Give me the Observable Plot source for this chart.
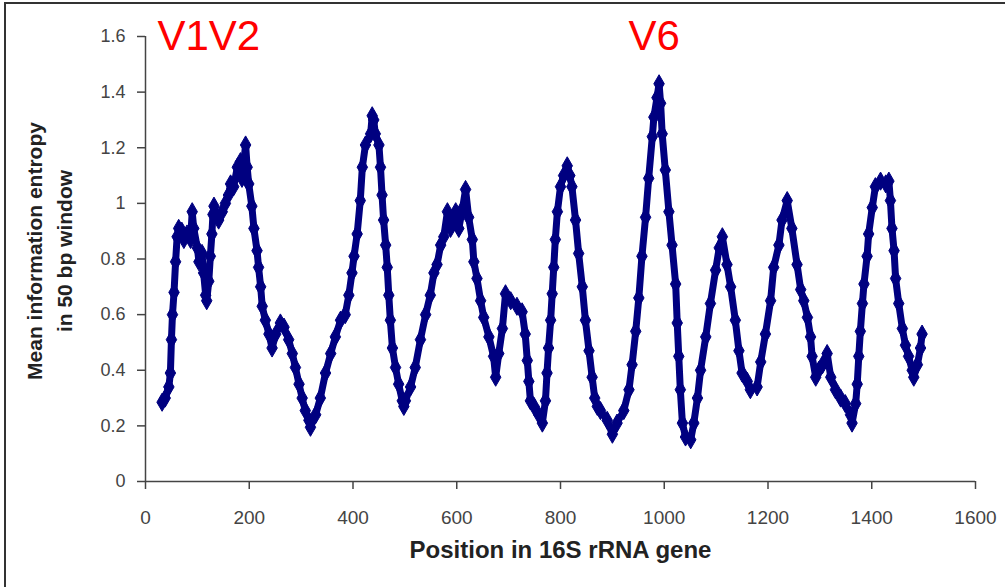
<!DOCTYPE html>
<html>
<head>
<meta charset="utf-8">
<script src="https://cdn.jsdelivr.net/npm/d3@7"></script>
<script src="https://cdn.jsdelivr.net/npm/@observablehq/plot@0.6"></script>
<style>
  html, body { margin: 0; padding: 0; background: #fff; }
  #wrap { position: relative; width: 1005px; height: 587px; overflow: hidden; }
  #border { position: absolute; left: 4px; top: 2px; right: 0; bottom: 0; border-top: 2px solid #333; border-left: 2px solid #333; pointer-events: none; }
</style>
</head>
<body>
<div id="wrap"><div id="border"></div></div>
<script>
// Position in 16S rRNA gene (bp) and mean information entropy in a 50 bp window
const positions = [
  32, 38, 45, 48, 50, 52, 55, 58, 61, 64, 70, 74, 80, 87, 90, 93, 100, 103, 109, 112,
  116, 118, 122, 125, 128, 130, 132, 141, 148, 154, 160, 164, 170, 177, 183, 186, 193, 196, 199, 205,
  209, 215, 218, 222, 225, 231, 238, 244, 251, 260, 267, 276, 283, 289, 296, 302, 308, 315, 318, 328,
  337, 347, 357, 366, 376, 385, 392, 398, 402, 408, 414, 418, 424, 434, 437, 440, 443, 450, 453, 456,
  459, 463, 466, 469, 472, 476, 482, 488, 495, 498, 501, 511, 520, 530, 540, 549, 556, 562, 569, 575,
  582, 588, 598, 604, 611, 617, 623, 630, 633, 639, 646, 652, 662, 671, 675, 681, 688, 694, 704, 716,
  726, 732, 736, 739, 742, 749, 758, 765, 771, 774, 777, 781, 784, 787, 790, 794, 800, 806, 813, 818,
  822, 829, 835, 842, 848, 855, 861, 866, 871, 877, 890, 900, 909, 922, 932, 938, 945, 951, 957, 964,
  970, 977, 980, 986, 990, 993, 996, 1002, 1009, 1015, 1022, 1025, 1028, 1031, 1035, 1041, 1051, 1057, 1064, 1070,
  1080, 1089, 1099, 1106, 1112, 1121, 1128, 1137, 1144, 1150, 1160, 1166, 1179, 1186, 1195, 1205, 1211, 1221, 1227, 1237,
  1246, 1256, 1263, 1269, 1276, 1282, 1285, 1292, 1298, 1305, 1314, 1321, 1330, 1340, 1349, 1359, 1362, 1369, 1372, 1375,
  1378, 1382, 1385, 1391, 1394, 1401, 1407, 1417, 1427, 1433, 1436, 1439, 1443, 1446, 1452, 1459, 1465, 1471, 1478, 1481,
  1488, 1494, 1497
];
const entropy = [
  0.285, 0.30, 0.34, 0.39, 0.51, 0.60, 0.68, 0.79, 0.88, 0.91, 0.90, 0.87, 0.89, 0.87, 0.97, 0.91, 0.84, 0.79, 0.82, 0.75,
  0.67, 0.65, 0.72, 0.81, 0.89, 0.96, 0.99, 0.94, 0.97, 1.00, 1.03, 1.07, 1.06, 1.13, 1.15, 1.09, 1.21, 1.13, 1.07, 0.99,
  0.91, 0.83, 0.77, 0.70, 0.63, 0.58, 0.53, 0.48, 0.53, 0.57, 0.555, 0.51, 0.46, 0.41, 0.35, 0.30, 0.255, 0.22, 0.195, 0.24,
  0.30, 0.39, 0.46, 0.52, 0.58, 0.60, 0.67, 0.75, 0.81, 0.89, 1.01, 1.13, 1.21, 1.25, 1.315, 1.30, 1.25, 1.21, 1.13, 1.03,
  0.94, 0.85, 0.77, 0.67, 0.58, 0.48, 0.41, 0.35, 0.29, 0.27, 0.29, 0.34, 0.41, 0.51, 0.60, 0.67, 0.75, 0.78, 0.85, 0.88,
  0.97, 0.91, 0.97, 0.91, 0.98, 1.05, 0.95, 0.87, 0.79, 0.73, 0.65, 0.59, 0.52, 0.45, 0.375, 0.46, 0.55, 0.675, 0.65, 0.63,
  0.61, 0.53, 0.435, 0.36, 0.29, 0.27, 0.24, 0.21, 0.29, 0.39, 0.48, 0.58, 0.675, 0.77, 0.87, 0.97, 1.06, 1.10, 1.135, 1.10,
  1.06, 0.94, 0.82, 0.70, 0.58, 0.47, 0.375, 0.30, 0.27, 0.255, 0.22, 0.17, 0.21, 0.255, 0.33, 0.42, 0.54, 0.66, 0.81, 0.95,
  1.09, 1.24, 1.31, 1.38, 1.43, 1.36, 1.25, 1.12, 0.97, 0.85, 0.71, 0.57, 0.45, 0.33, 0.21, 0.16, 0.15, 0.21, 0.30, 0.40,
  0.52, 0.64, 0.76, 0.84, 0.88, 0.78, 0.70, 0.58, 0.47, 0.39, 0.36, 0.33, 0.34, 0.43, 0.53, 0.65, 0.77, 0.85, 0.94, 1.01,
  0.91, 0.78, 0.69, 0.65, 0.59, 0.52, 0.45, 0.375, 0.40, 0.42, 0.46, 0.375, 0.33, 0.30, 0.28, 0.24, 0.21, 0.28, 0.35, 0.45,
  0.54, 0.64, 0.71, 0.81, 0.89, 0.985, 1.06, 1.08, 1.07, 1.08, 1.01, 0.91, 0.83, 0.73, 0.64, 0.55, 0.49, 0.45, 0.40, 0.375,
  0.42, 0.48, 0.53
];
const xTicks = [0, 200, 400, 600, 800, 1000, 1200, 1400, 1600];
const yTicks = [0, 0.2, 0.4, 0.6, 0.8, 1.0, 1.2, 1.4, 1.6];
const xTitle = "Position in 16S rRNA gene";
const yTitle = "Mean information entropy\nin 50 bp window";
const regionLabels = ["V1V2", "V6"];
const regionX = [23, 931];
const regionY = [1.6, 1.6];

const data = positions.map((p, i) => ({pos: p, v: entropy[i]}));
const regions = regionLabels.map((t, i) => ({t, x: regionX[i], y: regionY[i]}));

const axisColor = "#444";
const navy = "#000080";

const chart = Plot.plot({
  width: 1005,
  height: 587,
  marginLeft: 145,
  marginRight: 30,
  marginTop: 36,
  marginBottom: 106,
  style: {fontFamily: "'Liberation Sans', Arial, sans-serif", fontSize: "18px", color: axisColor, background: "transparent"},
  x: {domain: [0, 1600]},
  y: {domain: [0, 1.6]},
  marks: [
    Plot.axisX({ticks: xTicks, tickSize: 8, tickPadding: 21, fontSize: 19, label: null, stroke: axisColor, strokeWidth: 1.5, fill: axisColor, tickFormat: d => String(d)}),
    Plot.axisY({ticks: yTicks, tickSize: 8, tickPadding: 12, label: null, stroke: axisColor, strokeWidth: 1.5, fill: axisColor, tickFormat: d => String(+d.toFixed(1))}),
    Plot.ruleY([0], {stroke: axisColor, strokeWidth: 1.5}),
    Plot.ruleX([0], {stroke: axisColor, strokeWidth: 1.5}),
    Plot.line(data, {x: "pos", y: "v", stroke: navy, strokeWidth: 7, strokeLinejoin: "round", strokeLinecap: "round"}),
    Plot.dot(data, {x: "pos", y: "v", symbol: "diamond", r: 5.5, fill: navy, stroke: navy, strokeWidth: 1}),
    Plot.text([xTitle], {frameAnchor: "bottom", dy: 76, fontWeight: "bold", fontSize: 24, fill: "#222"}),
    Plot.text([yTitle], {frameAnchor: "left", textAnchor: "middle", dx: -98, dy: -8, rotate: -90, fontWeight: "bold", fontSize: 21, lineHeight: 1.45, fill: "#222"}),
    Plot.text(regions, {x: "x", y: "y", text: "t", textAnchor: "start", fill: "#f00", fontSize: 42})
  ]
});
document.getElementById("wrap").prepend(chart);
</script>
</body>
</html>
